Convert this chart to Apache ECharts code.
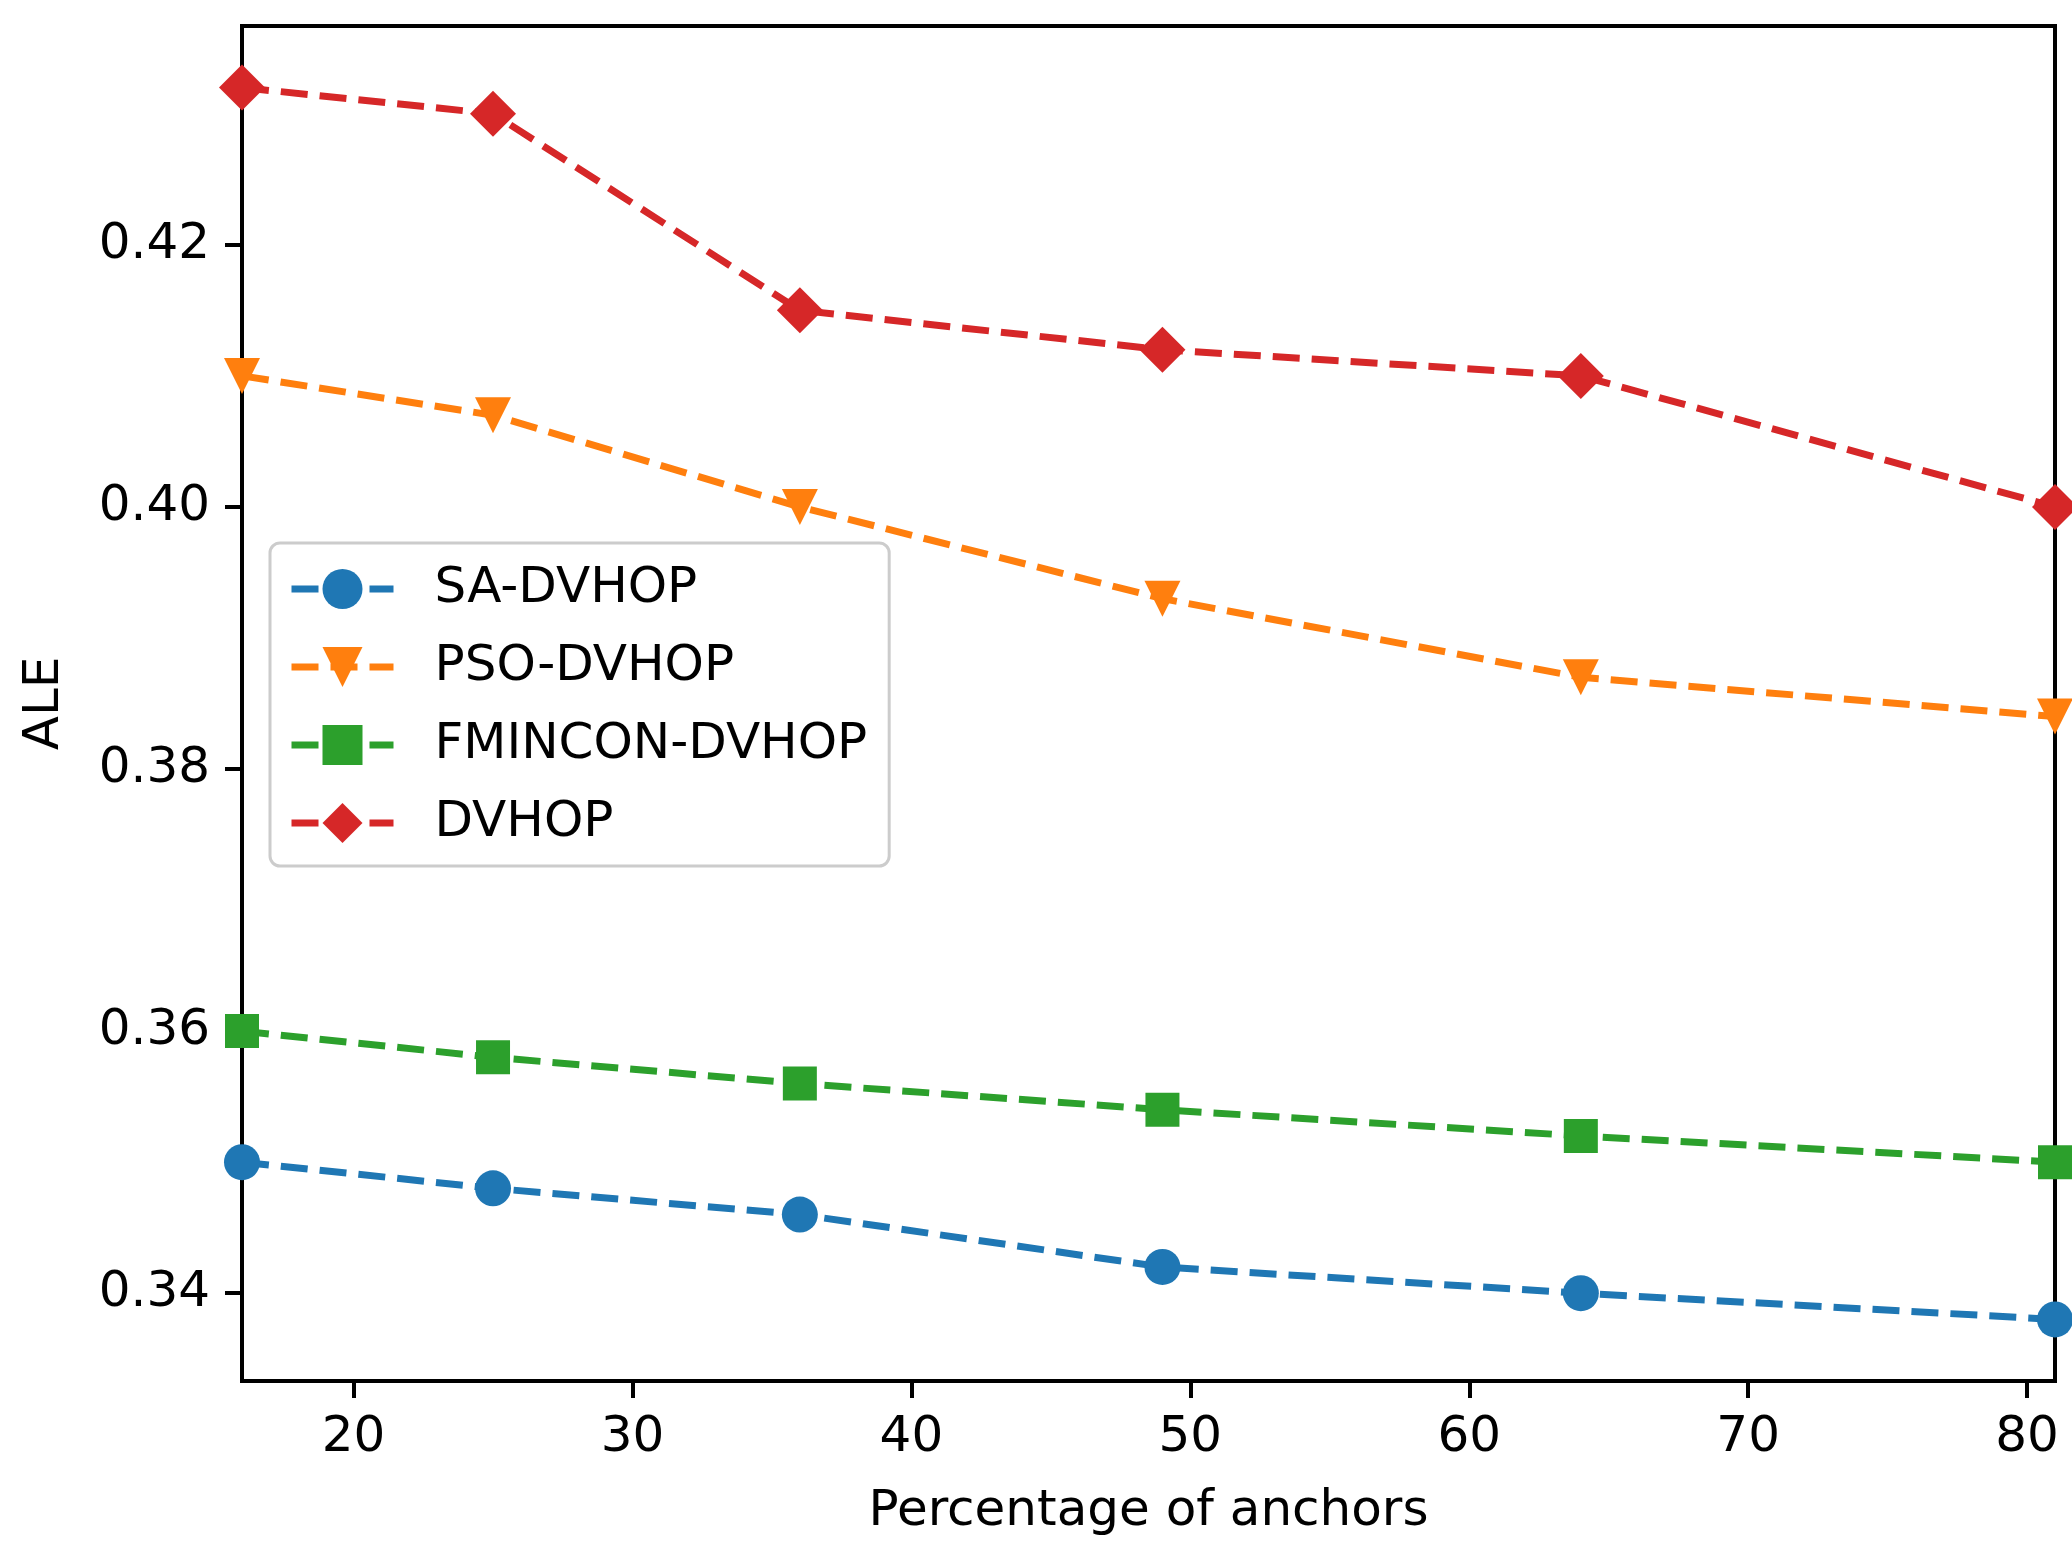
<!DOCTYPE html>
<html>
<head>
<meta charset="utf-8">
<script src="https://cdn.jsdelivr.net/npm/echarts@6/dist/echarts.min.js"></script>
<style>
html,body{margin:0;padding:0;background:#fff;}
#chart{width:2072px;height:1560px;}
</style>
</head>
<body>
<div id="chart"></div>
<script>
const xValues = [16, 25, 36, 49, 64, 81];
const seriesNames = ['SA-DVHOP', 'PSO-DVHOP', 'FMINCON-DVHOP', 'DVHOP'];
const saValues = [0.350, 0.348, 0.346, 0.342, 0.340, 0.338];
const psoValues = [0.410, 0.407, 0.400, 0.393, 0.387, 0.384];
const fminconValues = [0.360, 0.358, 0.356, 0.354, 0.352, 0.350];
const dvhopValues = [0.432, 0.430, 0.415, 0.412, 0.410, 0.400];
const xTicks = [20, 30, 40, 50, 60, 70, 80];
const yTicks = [0.34, 0.36, 0.38, 0.40, 0.42];

const colors = ['#1f77b4', '#ff7f0e', '#2ca02c', '#d62728'];
const symbols = ['circle', 'triangle', 'rect', 'diamond'];
const symbolSizes = [36, 36, 34, 46];
const symbolRotates = [0, 180, 0, 0];
const allValues = [saValues, psoValues, fminconValues, dvhopValues];

const chart = echarts.init(document.getElementById('chart'), null, {renderer: 'canvas'});
const font = 'DejaVu Sans';
const fs = 50;

const series = seriesNames.map((name, i) => ({
  name: name,
  type: 'line',
  data: xValues.map((x, j) => [x, allValues[i][j]]),
  symbol: symbols[i],
  symbolSize: symbolSizes[i],
  symbolRotate: symbolRotates[i],
  showAllSymbol: true,
  clip: true,
  itemStyle: {color: colors[i], borderColor: colors[i], borderWidth: 0},
  lineStyle: {color: colors[i], width: 7, type: [27, 12]},
  emphasis: {disabled: true},
  animation: false,
  z: 2 + i
}));

chart.setOption({
  animation: false,
  backgroundColor: '#ffffff',
  grid: {
    left: 242, right: 17, top: 26, bottom: 179,
    show: true, borderColor: '#000', borderWidth: 4, backgroundColor: 'transparent'
  },
  legend: {
    orient: 'vertical',
    left: 270, top: 543,
    padding: [21, 22, 18, 18],
    itemWidth: 102,
    itemHeight: 50,
    itemGap: 28,
    backgroundColor: 'rgba(255,255,255,0.8)',
    borderColor: '#cccccc',
    borderWidth: 3,
    borderRadius: 10,
    data: seriesNames,
    lineStyle: {width: 7, type: [27, 12]},
    textStyle: {fontFamily: font, fontSize: fs, color: '#000', lineHeight: 50, padding: [0, 0, 0, 36]}
  },
  xAxis: {
    type: 'value',
    min: 16, max: 81,
    name: 'Percentage of anchors',
    nameLocation: 'middle',
    nameGap: 106,
    nameTextStyle: {fontFamily: font, fontSize: fs, color: '#000'},
    axisLine: {show: true, lineStyle: {color: '#000', width: 4}},
    axisTick: {show: true, length: 17, lineStyle: {color: '#000', width: 4}, customValues: xTicks},
    axisLabel: {fontFamily: font, fontSize: fs, color: '#000', margin: 32, customValues: xTicks},
    splitLine: {show: false}
  },
  yAxis: {
    type: 'value',
    min: 0.3333, max: 0.4367,
    name: 'ALE',
    nameLocation: 'middle',
    nameGap: 172,
    nameRotate: 90,
    nameTextStyle: {fontFamily: font, fontSize: fs, color: '#000'},
    axisLine: {show: true, lineStyle: {color: '#000', width: 4}},
    axisTick: {show: true, length: 17, lineStyle: {color: '#000', width: 4}, customValues: yTicks},
    axisLabel: {fontFamily: font, fontSize: fs, color: '#000', margin: 32, customValues: yTicks,
      formatter: v => v.toFixed(2)},
    splitLine: {show: false}
  },
  series: series
});
</script>
</body>
</html>
